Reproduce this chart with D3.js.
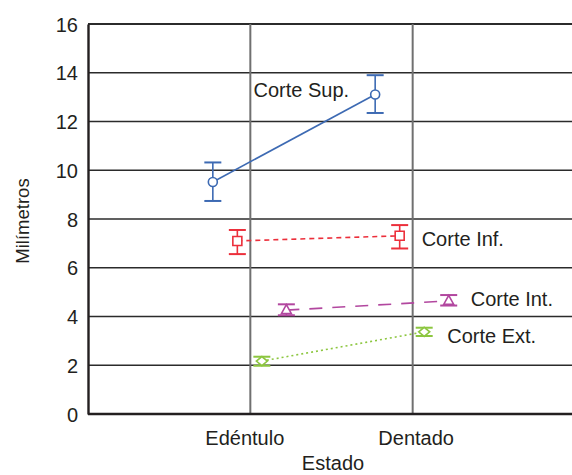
<!DOCTYPE html>
<html><head><meta charset="utf-8">
<script src="https://cdn.jsdelivr.net/npm/d3@7"></script>
<style>body{margin:0;background:#fff}svg{display:block}text{font-family:"Liberation Sans",Arial,Helvetica,sans-serif;fill:#231f20}</style>
</head><body><svg id="c" width="572" height="475"></svg>
<script>
const categories = ["Edéntulo", "Dentado"];
const seriesNames = ["Corte Sup.", "Corte Inf.", "Corte Ext.", "Corte Int."];
const supMean = [9.52, 13.11];
const supLow = [8.74, 12.35];
const supHigh = [10.32, 13.9];
const infMean = [7.1, 7.31];
const infLow = [6.56, 6.79];
const infHigh = [7.55, 7.75];
const extMean = [2.17, 3.37];
const extLow = [1.98, 3.2];
const extHigh = [2.35, 3.54];
const intMean = [4.26, 4.64];
const intLow = [4.05, 4.45];
const intHigh = [4.5, 4.88];
const yTicks = [0, 2, 4, 6, 8, 10, 12, 14, 16];
const yLabel = "Milímetros";
const xLabel = "Estado";

const series = [
  {name: seriesNames[0], mean: supMean, low: supLow, high: supHigh},
  {name: seriesNames[1], mean: infMean, low: infLow, high: infHigh},
  {name: seriesNames[2], mean: extMean, low: extLow, high: extHigh},
  {name: seriesNames[3], mean: intMean, low: intLow, high: intHigh}
];
const styles = {
  "Corte Sup.": {color: "#3d6ab3", dash: null, sym: "circle", anchor: "end", dx: -26, dy: -4},
  "Corte Inf.": {color: "#ec2f3b", dash: "5,4", sym: "square", anchor: "start", dx: 22, dy: 3},
  "Corte Ext.": {color: "#8cc63f", dash: "2,3", sym: "diamond", anchor: "start", dx: 23, dy: 4},
  "Corte Int.": {color: "#b2479f", dash: "13,10", sym: "triangle", anchor: "start", dx: 22, dy: -2}
};

const svg = d3.select("#c");
const L = 88, R = 575, T = 24, B = 414;
const x = d3.scalePoint().domain(categories).range([L, R]).padding(1);
const off = d3.scalePoint().domain(seriesNames).range([-x.step()*0.231, x.step()*0.222]);
const y = d3.scaleLinear().domain([0, 16]).range([B, T]);

// gridlines
svg.append("g").selectAll("line").data(yTicks.filter(d => d > 0)).join("line")
  .attr("x1", L).attr("x2", R).attr("y1", d => y(d)).attr("y2", d => y(d))
  .attr("stroke", "#2b2b2b").attr("stroke-width", d => d === 16 ? 2.2 : 1.6);
svg.append("g").selectAll("line").data(categories).join("line")
  .attr("x1", d => x(d)).attr("x2", d => x(d)).attr("y1", T).attr("y2", B)
  .attr("stroke", "#707070").attr("stroke-width", 2);

// axes
const ya = svg.append("g").attr("transform", `translate(${L},0)`)
  .call(d3.axisLeft(y).tickValues(yTicks).tickSize(0).tickPadding(10).tickFormat(d3.format("d")));
ya.select(".domain").attr("stroke", "#231f20").attr("stroke-width", 2.4);
ya.selectAll("text").attr("font-size", 20).attr("font-family", "Liberation Sans, Arial, sans-serif").attr("fill", "#231f20").attr("dy", "0.35em");
const xa = svg.append("g").attr("transform", `translate(0,${B})`)
  .call(d3.axisBottom(x).tickSize(0).tickPadding(17));
xa.select(".domain").attr("stroke", "#231f20").attr("stroke-width", 2.4).attr("d", `M${L},0H${R}`);
xa.selectAll("text").attr("font-size", 20).attr("font-family", "Liberation Sans, Arial, sans-serif").attr("fill", "#231f20")
  .attr("dx", (d, i) => i === 0 ? -6 : 3);

svg.append("text").attr("transform", `translate(29,${(T+B)/2+2}) rotate(-90)`)
  .attr("text-anchor", "middle").attr("font-size", 18.5).text(yLabel);
svg.append("text").attr("x", 333).attr("y", 470).attr("text-anchor", "middle").attr("font-size", 20).text(xLabel);

function symPath(type) {
  if (type === "circle") return "M-4.5,0A4.5,4.5 0 1,0 4.5,0A4.5,4.5 0 1,0 -4.5,0Z";
  if (type === "square") return "M-4.5,-4.5H4.5V4.5H-4.5Z";
  if (type === "triangle") return "M0,-5.5L5,3.5H-5Z";
  return "M-5.5,0L0,-4.5L5.5,0L0,4.5Z";
}

series.forEach(s => {
  const st = styles[s.name];
  const g = svg.append("g");
  const px = i => x(categories[i]) + off(s.name);
  g.append("path").datum(s.mean)
    .attr("d", d3.line().x((d, i) => px(i)).y(d => y(d)))
    .attr("fill", "none").attr("stroke", st.color).attr("stroke-width", 1.6)
    .attr("stroke-dasharray", st.dash);
  categories.forEach((c, i) => {
    const cx = px(i);
    g.append("line").attr("x1", cx).attr("x2", cx).attr("y1", y(s.low[i])).attr("y2", y(s.high[i]))
      .attr("stroke", st.color).attr("stroke-width", 1.6);
    [s.low[i], s.high[i]].forEach(v => {
      g.append("line").attr("x1", cx - 8.5).attr("x2", cx + 8.5).attr("y1", y(v)).attr("y2", y(v))
        .attr("stroke", st.color).attr("stroke-width", 2);
    });
    g.append("path").attr("d", symPath(st.sym)).attr("transform", `translate(${cx},${y(s.mean[i])})`)
      .attr("fill", "#fff").attr("stroke", st.color).attr("stroke-width", 1.6);
  });
  g.append("text").attr("x", px(1) + st.dx).attr("y", y(s.mean[1]) + st.dy)
    .attr("dy", "0.35em").attr("text-anchor", st.anchor).attr("font-size", 20).text(s.name);
});
</script></body></html>
